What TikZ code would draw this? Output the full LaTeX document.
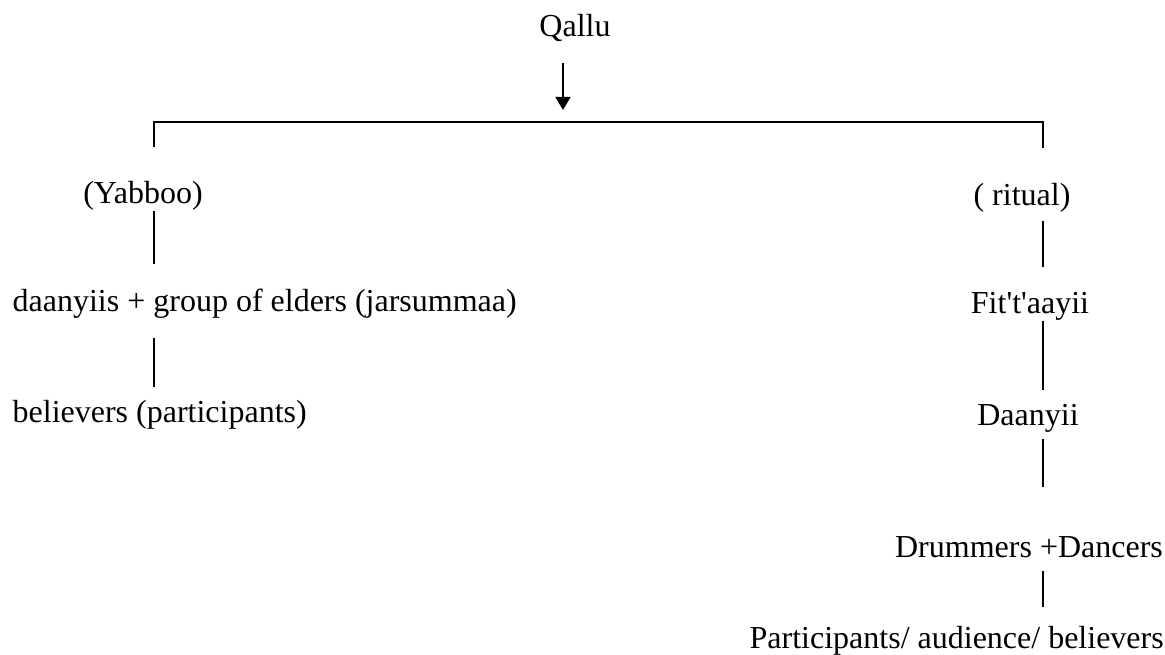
\documentclass[tikz,border=0pt]{standalone}
\usepackage{fontspec}
\setmainfont{Liberation Serif}[Ligatures=TeXOff]
\usetikzlibrary{arrows.meta}

\begin{document}
\begin{tikzpicture}[x=1pt,y=-1pt,line width=1.3pt,
    every node/.style={inner sep=0pt,font=\fontsize{32}{38}\selectfont},
    lab/.style={anchor=base},
    labw/.style={anchor=base west}]
			\useasboundingbox (0,0) rectangle (1165,655);
			\node[lab] (qal) at (575,37) {Qallu};
			\node[lab] (yab) at (143,204) {(Yabboo)};
			\node[labw] (dan) at (12,312) {daanyiis + group of elders (jarsummaa)};
			\node[labw] (bel) at (12,422) {believers (participants)};
			\node[lab] (rit) at (1022,206) {( ritual)};
			\node[lab] (fit) at (1030,313) {Fit't'aayii};
			\node[lab] (dny) at (1028,425) {Daanyii};
			\node[lab] (drm) at (1029,557) {Drummers +Dancers};
			\node[labw] (par) at (749,648) {Participants/ audience/ believers};
			\coordinate (lt) at (154,122);
			\coordinate (rt) at (1043,122);
			\coordinate (hub) at (563,122);
			\draw[-{Triangle[length=13pt,width=15pt]},shorten <=20pt,shorten >=12pt] (qal.south -| hub) -- (hub);
			\draw[line width=1.5pt] (lt) ++(0,25) -- (lt) -- (rt) -- ++(0,26);
			\draw[shorten >=25pt] (yab.south -| lt) -- (dan.north -| lt);
			\draw[shorten <=18pt,shorten >=12pt] (dan.south -| lt) -- (bel.north -| lt);
			\draw[shorten <=8pt,shorten >=24pt] (rit.south -| rt) -- (fit.north -| rt);
			\draw[shorten >=13pt] (fit.south -| rt) -- (dny.north -| rt);
			\draw[shorten <=6pt,shorten >=48pt] (dny.south -| rt) -- (drm.north -| rt);
			\draw[shorten <=13pt,shorten >=18pt] (drm.south -| rt) -- (par.north -| rt);
		\end{tikzpicture}
\end{document}
